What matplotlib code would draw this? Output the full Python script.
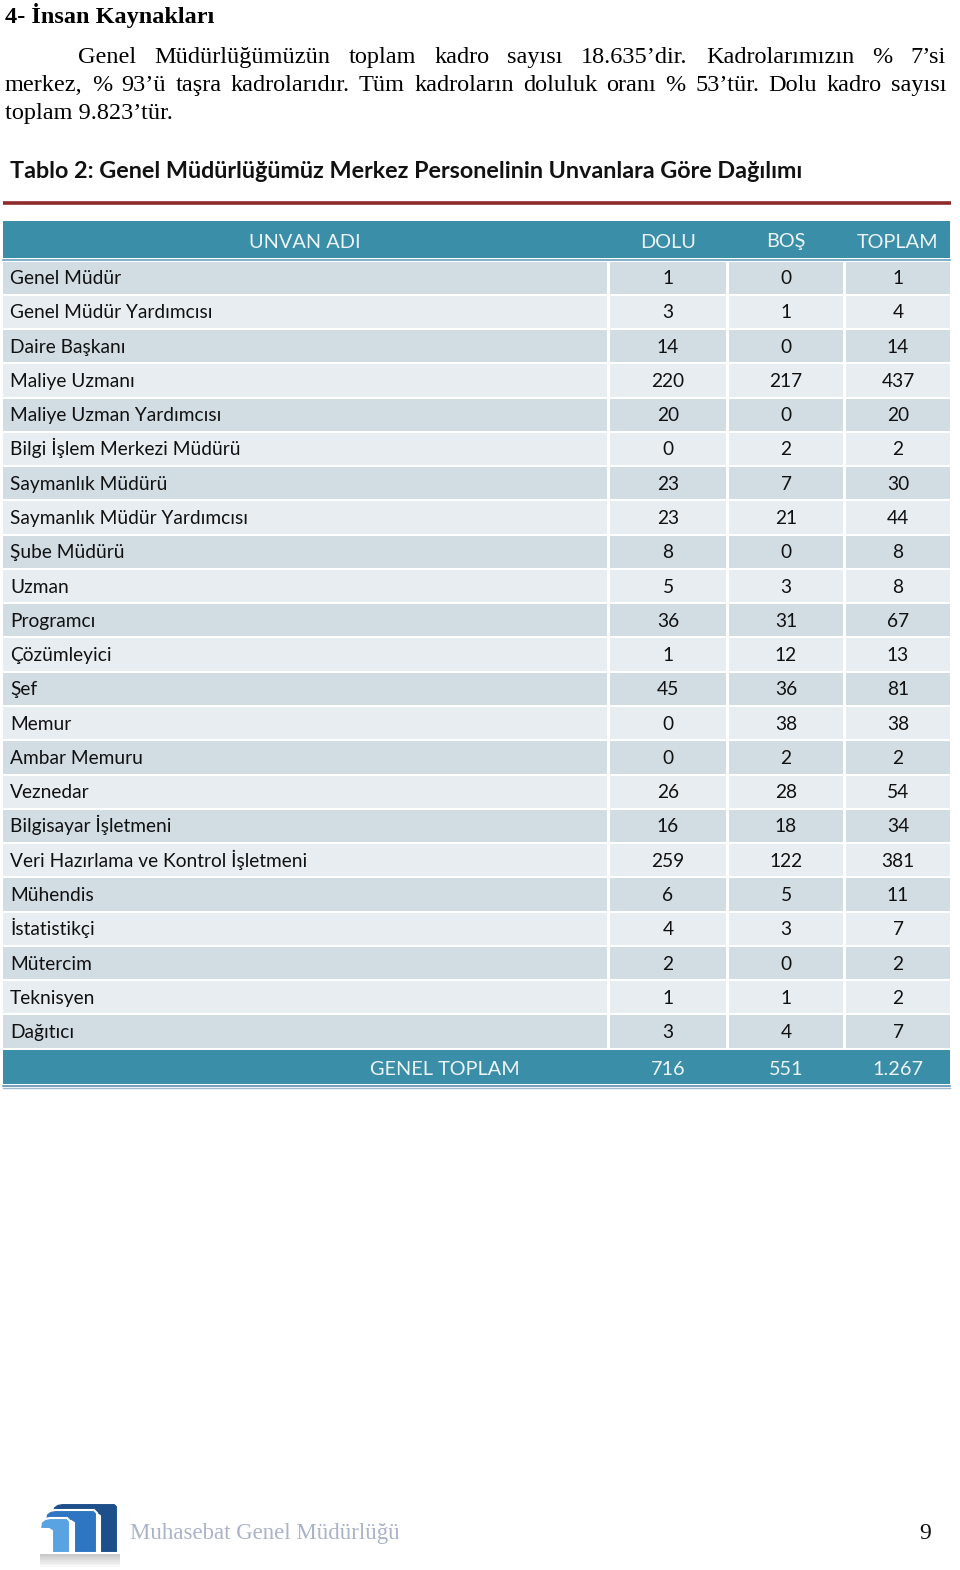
import matplotlib
matplotlib.use("Agg")
import matplotlib.pyplot as plt
from matplotlib.patches import Rectangle, Polygon

# table data
unvan = ["Genel Müdür", "Genel Müdür Yardımcısı", "Daire Başkanı", "Maliye Uzmanı",
         "Maliye Uzman Yardımcısı", "Bilgi İşlem Merkezi Müdürü", "Saymanlık Müdürü",
         "Saymanlık Müdür Yardımcısı", "Şube Müdürü", "Uzman", "Programcı", "Çözümleyici",
         "Şef", "Memur", "Ambar Memuru", "Veznedar", "Bilgisayar İşletmeni",
         "Veri Hazırlama ve Kontrol İşletmeni", "Mühendis", "İstatistikçi", "Mütercim",
         "Teknisyen", "Dağıtıcı"]
dolu = [1, 3, 14, 220, 20, 0, 23, 23, 8, 5, 36, 1, 45, 0, 0, 26, 16, 259, 6, 4, 2, 1, 3]
bos = [0, 1, 0, 217, 0, 2, 7, 21, 0, 3, 31, 12, 36, 38, 2, 28, 18, 122, 5, 3, 0, 1, 4]
toplam = [1, 4, 14, 437, 20, 2, 30, 44, 8, 8, 67, 13, 81, 38, 2, 54, 34, 381, 11, 7, 2, 2, 7]
headers = ["UNVAN ADI", "DOLU", "BOŞ", "TOPLAM"]
totals = ["716", "551", "1.267"]

heading = "4- İnsan Kaynakları"
para1 = "Genel Müdürlüğümüzün toplam kadro sayısı 18.635’dir. Kadrolarımızın % 7’si"
para2 = "merkez, % 93’ü taşra kadrolarıdır. Tüm kadroların doluluk oranı % 53’tür. Dolu kadro sayısı"
para3 = "toplam 9.823’tür."
title = "Tablo 2: Genel Müdürlüğümüz Merkez Personelinin Unvanlara Göre Dağılımı"

TEAL = "#3b8ea8"
DARK = "#d2dce3"
LIGHT = "#e8edf1"
SERIF = "Liberation Serif"
SANS = "Lato"

fig = plt.figure(figsize=(9.6, 15.7), dpi=100)
ax = fig.add_axes([0, 0, 1, 1])
ax.set_xlim(0, 960)
ax.set_ylim(1570, 0)
ax.axis("off")
renderer = fig.canvas.get_renderer()


def justify(words, x0, x1, y, **kw):
    # place words with equal gaps so the line fills x0..x1
    texts = [ax.text(0, y, w, va="baseline", ha="left", **kw) for w in words]
    widths = [t.get_window_extent(renderer).width for t in texts]
    gap = (x1 - x0 - sum(widths)) / (len(words) - 1)
    x = x0
    for t, w in zip(texts, widths):
        t.set_x(x)
        x += w + gap


ax.text(5, 23, heading, fontsize=17.5, fontweight="bold", family=SERIF, va="baseline")
justify(para1.split(" "), 78, 946, 63, fontsize=17.5, family=SERIF)
justify(para2.split(" "), 5, 946, 91, fontsize=17.5, family=SERIF)
ax.text(5, 119, para3, fontsize=17.5, family=SERIF, va="baseline")

ax.text(10, 178, title, fontsize=16.8, fontweight="bold", family=SANS, va="baseline", color="#111111")
ax.plot([3, 951], [203, 203], color="#8e2a2a", lw=2.6, solid_capstyle="butt")

# columns: left, right edges
cols = [(3, 607), (610, 726), (729, 843), (846, 950)]

# header
ax.add_patch(Rectangle((3, 221), 947, 37, facecolor=TEAL, edgecolor="none"))
for (l, r), h in zip(cols, headers):
    ax.text((l + r) / 2, 247.5, h, fontsize=14.3, family=SANS, color="#eef5f8",
            ha="center", va="baseline")
ax.plot([3, 950], [259.5, 259.5], color="#6a9fc0", lw=1.2)

row_h = 34.27
top0 = 260.5
for i, name in enumerate(unvan):
    y = top0 + i * row_h
    fc = DARK if i % 2 == 0 else LIGHT
    for (l, r) in cols:
        ax.add_patch(Rectangle((l, y + 1), r - l, row_h - 2, facecolor=fc, edgecolor="none"))
    yb = y + row_h / 2 + 6.5
    ax.text(10, yb, name, fontsize=13.8, family=SANS, color="#111111", va="baseline", ha="left")
    for (l, r), v in zip(cols[1:], (dolu[i], bos[i], toplam[i])):
        ax.text((l + r) / 2, yb, str(v), fontsize=13.8, family=SANS, color="#111111",
                va="baseline", ha="center")

# total row
ty = top0 + len(unvan) * row_h + 1
ax.add_patch(Rectangle((3, ty), 947, 34, facecolor=TEAL, edgecolor="none"))
ax.text(445, ty + 25, "GENEL TOPLAM", fontsize=14.3, family=SANS, color="#eef5f8",
        ha="center", va="baseline")
for (l, r), v in zip(cols[1:], totals):
    ax.text((l + r) / 2, ty + 25, v, fontsize=14.3, family=SANS, color="#eef5f8",
            ha="center", va="baseline")
ax.plot([3, 950], [ty + 36, ty + 36], color="#5d8db0", lw=1.2)
ax.plot([3, 950], [ty + 38.5, ty + 38.5], color="#9bb8cf", lw=1.0)

# footer logo with faded reflection
for k in range(8):
    ax.add_patch(Rectangle((40, 1554 + k * 1.6), 80, 1.6, facecolor="#b8b8b8",
                           edgecolor="none", alpha=0.75 * (1 - k / 8)))
arches = [
    ([52, 118], 1503, 100, "#1d4f8a"),
    ([45, 97], 1510, 74, "#2e76c2"),
    ([40, 70], 1518, 52, "#5aa3e3"),
]
for (xl, xr), yt, leg, c in arches:
    pts = [(xl, yt + 11), (xl + 1, yt + 4), (xl + 5, yt + 1), (xl + 10, yt),
           (xr - 3, yt), (xr, yt + 3), (xr, 1553), (leg, 1553), (leg, yt + 13),
           (leg - 3, yt + 11)]
    ax.add_patch(Polygon(pts, closed=True, facecolor=c, edgecolor="white", lw=1.5))
ax.text(130, 1539, "Muhasebat Genel Müdürlüğü", fontsize=16.5, family=SERIF,
        color="#aab3c8", va="baseline")
ax.text(925, 1539, "9", fontsize=17, family=SERIF, color="#111111", va="baseline", ha="center")

fig.savefig("out.png", dpi=100)
